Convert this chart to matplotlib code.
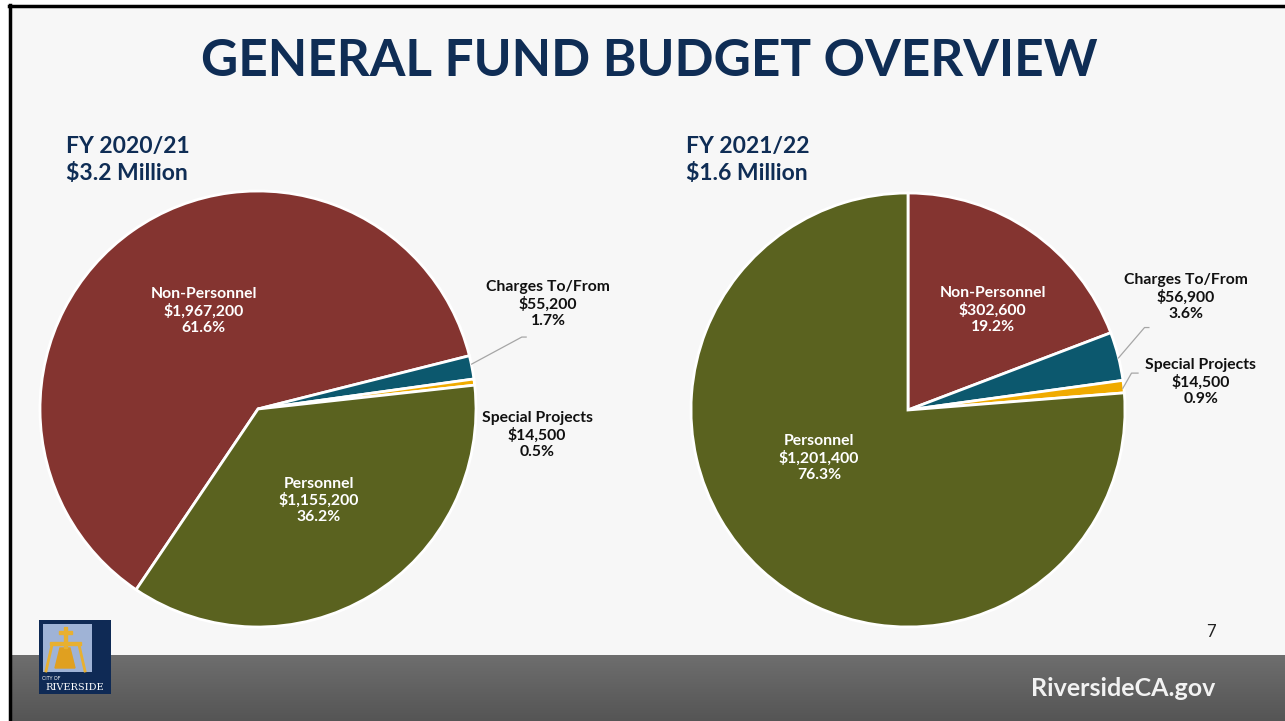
import numpy as np
import matplotlib
matplotlib.use("Agg")
import matplotlib.pyplot as plt
from matplotlib.patches import Rectangle, Polygon
from matplotlib.colors import LinearSegmentedColormap

# data
categories = ['Non-Personnel', 'Charges To/From', 'Special Projects', 'Personnel']
fy2021_values = [1967200, 55200, 14500, 1155200]
fy2122_values = [302600, 56900, 14500, 1201400]
slice_colors = ['#843430', '#0c586e', '#f0ab00', '#5a621f']
titles = ['FY 2020/21\n$3.2 Million', 'FY 2021/22\n$1.6 Million']

W, H = 1285, 721
NAVY = '#0f2d55'
plt.rcParams['font.family'] = ['Lato', 'DejaVu Sans']

fig = plt.figure(figsize=(W / 100, H / 100), dpi=100)
fig.patch.set_facecolor('white')

# background canvas in pixel coordinates
bg = fig.add_axes([0, 0, 1, 1])
bg.axis('off')
bg.add_patch(Rectangle((9, 5), W, H, facecolor='#f7f7f7', edgecolor='none'))
# footer gradient bar
grad = np.linspace(0, 1, 100).reshape(-1, 1)
bg.imshow(grad, extent=(9, W, H, 655), aspect='auto', zorder=1,
          cmap=LinearSegmentedColormap.from_list('g', ['#6e6e6e', '#555555']))
bg.plot([9.5, 9.5], [5, H], color='black', lw=2.5, zorder=5)
bg.plot([9, W], [5.5, 5.5], color='black', lw=2.5, zorder=5)
bg.set_xlim(0, W)
bg.set_ylim(H, 0)

bg.text(649, 62, 'GENERAL FUND BUDGET OVERVIEW', ha='center', va='center',
        fontsize=37, fontweight='bold', color=NAVY)
bg.text(66, 160, titles[0], ha='left', va='center', fontsize=16.5,
        fontweight='bold', color=NAVY, linespacing=1.3)
bg.text(686, 160, titles[1], ha='left', va='center', fontsize=16.5,
        fontweight='bold', color=NAVY, linespacing=1.3)
bg.text(1211, 632, '7', ha='center', va='center', fontsize=12, color='#222222')
bg.text(1123, 688, 'RiversideCA.gov', ha='center', va='center', fontsize=18,
        fontweight='bold', color='#f2f2f2', zorder=3)

# simple city logo
bg.add_patch(Rectangle((39, 620), 72, 74, facecolor='#0f2a55', zorder=3))
bg.add_patch(Rectangle((43, 624), 49, 48, facecolor='#9fb3d6', zorder=3))
bg.add_patch(Polygon([(60, 648), (70, 648), (75, 668), (55, 668)], color='#e0a020', zorder=4))
bg.add_patch(Rectangle((64, 627), 3, 21, color='#e8b030', zorder=4))
bg.add_patch(Rectangle((59, 631), 13, 2.5, color='#e8b030', zorder=4))
bg.add_patch(Rectangle((50, 642), 31, 3, color='#e8b030', zorder=4))
bg.plot([52, 46], [645, 671], color='#e8b030', lw=2, zorder=4)
bg.plot([79, 85], [645, 671], color='#e8b030', lw=2, zorder=4)
bg.text(42, 679, 'CITY OF', fontsize=3.5, color='white', ha='left', va='center', zorder=5)
bg.text(75, 688, 'RIVERSIDE', fontsize=7, color='white', ha='center', va='center',
        family='DejaVu Serif', zorder=5)


def draw_pie(cx, cy, r, values, startangle, inner, outer, leaders):
    ax = fig.add_axes([(cx - r) / W, (H - cy - r) / H, 2 * r / W, 2 * r / H])
    ax.pie(values, colors=slice_colors, startangle=startangle, counterclock=False,
           radius=1, wedgeprops=dict(edgecolor='white', linewidth=2))
    ax.set_xlim(-1, 1)
    ax.set_ylim(-1, 1)
    ax.set_aspect('auto')
    total = sum(values)
    for i, name in enumerate(categories):
        pct = values[i] / total * 100
        label = f'{name}\n${values[i]:,}\n{pct:.1f}%'
        if name in inner:
            x, y = inner[name]
            color = 'white'
        else:
            x, y = outer[name]
            color = '#111111'
        ax.text(x, y, label, ha='center', va='center', fontsize=11.3,
                fontweight='bold', color=color, linespacing=1.2, clip_on=False)
    for xs, ys in leaders:
        ax.plot(xs, ys, color='#a6a6a6', lw=0.9, clip_on=False)
    return ax


draw_pie(258, 409, 218, fy2021_values, -124,
         inner={'Non-Personnel': (-0.25, 0.45), 'Personnel': (0.28, -0.42)},
         outer={'Charges To/From': (1.33, 0.48), 'Special Projects': (1.28, -0.12)},
         leaders=[([0.98, 1.21, 1.23], [0.206, 0.33, 0.33])])

draw_pie(908, 410, 217, fy2122_values, 90,
         inner={'Non-Personnel': (0.39, 0.46), 'Personnel': (-0.41, -0.22)},
         outer={'Charges To/From': (1.28, 0.52), 'Special Projects': (1.35, 0.13)},
         leaders=[([0.97, 1.09, 1.11], [0.24, 0.38, 0.38]),
                  ([0.99, 1.03, 1.06], [0.10, 0.17, 0.17])])

fig.savefig('out.png', dpi=100, facecolor=fig.get_facecolor())
